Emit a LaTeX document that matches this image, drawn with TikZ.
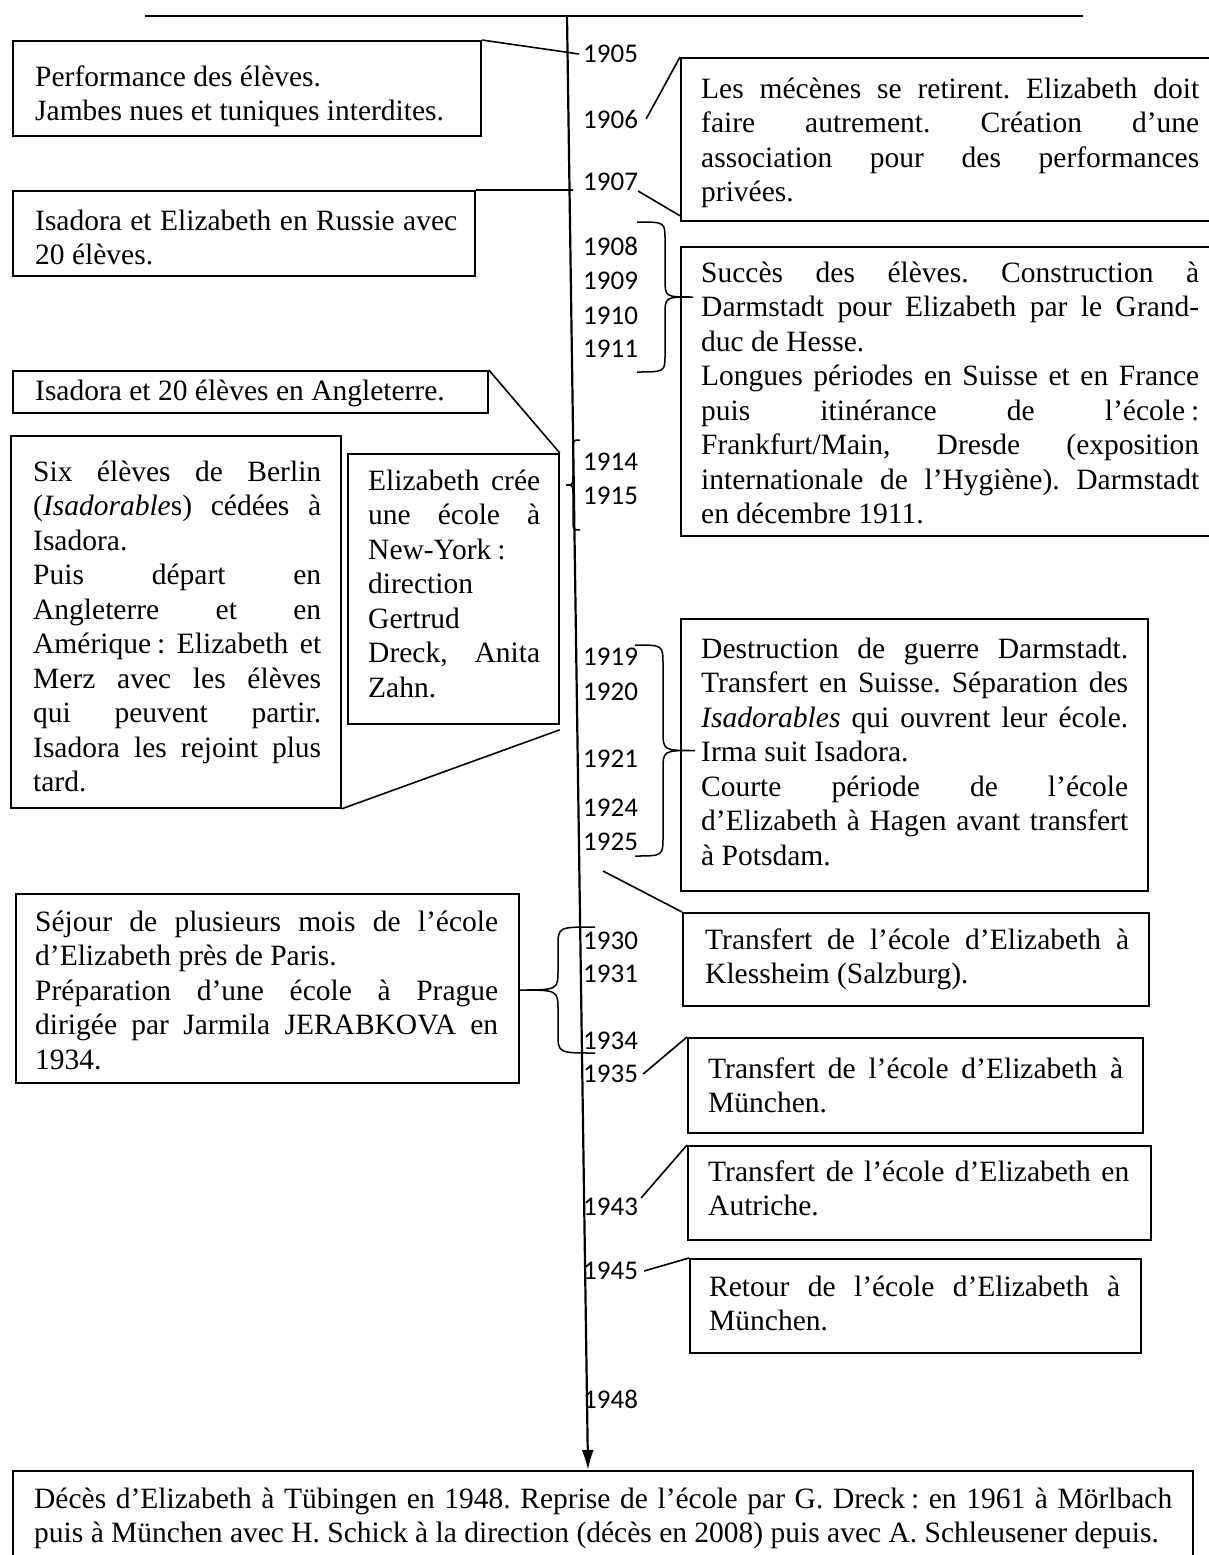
\documentclass[tikz,border=0pt]{standalone}
\usepackage{fontspec}
\setmainfont{Liberation Serif}
\newfontfamily\yearfont{Carlito}
\usetikzlibrary{positioning,arrows.meta}
\tikzset{>={Latex[length=20pt,width=12pt]}}
\newcommand{\boxfont}{\fontsize{29.5}{34.5}\selectfont\frenchspacing\parindent=0pt \hyphenpenalty=10000 \tolerance=9999 \hbadness=10000 \relax}
\newcommand{\colsp}{\nobreak\hspace{0.2em}:}
% curly brace: end x, top y, bottom y, spine x, tip x, radius
\newcommand{\wordbrace}[6]{%
	\draw[line width=1.5pt] (#1,#2) .. controls (#4,#2) .. (#4,#2+#6)
		-- (#4,{(#2+#3)/2-#6}) .. controls (#4,{(#2+#3)/2}) .. (#5,{(#2+#3)/2})
		.. controls (#4,{(#2+#3)/2}) .. (#4,{(#2+#3)/2+#6})
		-- (#4,#3-#6) .. controls (#4,#3) .. (#1,#3);}

\begin{document}
\begin{tikzpicture}[x=1pt, y=-1pt,
	frame/.style = {draw, line width=1.8pt, anchor=north west, inner sep=0pt},
	boxtext/.style = {anchor=north west, inner sep=0pt, align=justify, font=\boxfont, execute at begin node=\strut},
	yearlbl/.style = {anchor=west, inner sep=0pt, font=\yearfont\fontsize{27}{30}\selectfont},
	link/.style = {line width=1.6pt}]
	\useasboundingbox (0,0) rectangle (1208,1555);
	% rule at the top
	\coordinate (rulel) at (145,16);
	\coordinate (ruler) at (1083,16);
	\draw[line width=2.5pt] (rulel) -- (ruler);
	% years
	\foreach \yr/\yy in {1905/54, 1906/119, 1907/182, 1908/246, 1909/281, 1910/316, 1911/349, 1914/462, 1915/496, 1919/657, 1920/692, 1921/759, 1924/808, 1925/842, 1930/941, 1931/974, 1934/1041, 1935/1074, 1943/1207, 1945/1271, 1948/1399}
	\node[yearlbl] (y\yr) at (583,\yy) {\yr};
	% time axis
	\coordinate (ttop) at (567,16);
	\coordinate (tend) at (588,1470);
	\draw[line width=2.2pt, ->] (ttop) -- (tend);

	% left column
	\node[frame, minimum width=468pt, minimum height=95pt] (perf) at (12,40) {};
	\node[boxtext, text width=426pt, below right=22pt and 23pt of perf.north west] (perf-t) {Performance des élèves.\\Jambes nues et tuniques interdites.};
	\draw[link] (perf.north east) -- ([xshift=-4pt]y1905.west);

	\node[frame, minimum width=462pt, minimum height=85pt] (russie) at (12,190) {};
	\node[boxtext, text width=422pt, below right=16pt and 23pt of russie.north west] (russie-t) {Isadora et Elizabeth en Russie avec\linebreak 20 élèves.};
	\coordinate (trussie) at (573,190);
	\draw[link] (russie.north east) -- (trussie);

	\node[frame, minimum width=475pt, minimum height=42pt] (angl) at (12,370) {};
	\node[boxtext, text width=433pt, below right=6pt and 23pt of angl.north west] (angl-t) {Isadora et 20 élèves en Angleterre.};

	\node[frame, minimum width=330pt, minimum height=372pt] (berlin) at (10,435) {};
	\node[boxtext, text width=288pt, below right=22pt and 23pt of berlin.north west] (berlin-t) {Six élèves de Berlin\linebreak (\textit{Isadorable}s) cédées à\linebreak Isadora.\\Puis départ en\linebreak Angleterre et en\linebreak Amérique\colsp{} Elizabeth et\linebreak Merz avec les élèves\linebreak qui peuvent partir.\linebreak Isadora les rejoint plus\linebreak tard.};

	\node[frame, minimum width=211pt, minimum height=270pt] (ny) at (347,453) {};
	\node[boxtext, text width=172pt, below right=13pt and 21pt of ny.north west] (ny-t) {Elizabeth crée\linebreak une école à\linebreak New-York\colsp\\direction\\Gertrud\\Dreck, Anita\linebreak Zahn.};
	\draw[link] (angl.north east) -- (ny.north east);
	\draw[link] (berlin.south east) -- ([yshift=-5pt]ny.south east);

	\node[frame, minimum width=503pt, minimum height=189pt] (paris) at (15,893) {};
	\node[boxtext, text width=463pt, below right=14pt and 20pt of paris.north west] (paris-t) {Séjour de plusieurs mois de l’école\linebreak d’Elizabeth près de Paris.\\Préparation d’une école à Prague\linebreak dirigée par Jarmila JERABKOVA en\linebreak 1934.};

	% right column
	\node[frame, minimum width=540pt, minimum height=163pt] (mecenes) at (680,57) {};
	\node[boxtext, text width=498pt, below right=17pt and 21pt of mecenes.north west] (mecenes-t) {Les mécènes se retirent. Elizabeth doit\linebreak faire autrement. Création d’une\linebreak association pour des performances\linebreak privées.};
	\draw[link] ([xshift=8pt]y1906.east) -- (mecenes.north west);
	\draw[link] (y1907.south east) -- ([yshift=6pt]mecenes.south west);

	\node[frame, minimum width=540pt, minimum height=289pt] (darm) at (680,246) {};
	\node[boxtext, text width=498pt, below right=12pt and 21pt of darm.north west] (darm-t) {Succès des élèves. Construction à\linebreak Darmstadt pour Elizabeth par le Grand-\linebreak duc de Hesse.\\Longues périodes en Suisse et en France\linebreak puis itinérance de l’école\colsp\linebreak Frankfurt/Main, Dresde (exposition\linebreak internationale de l’Hygiène). Darmstadt\linebreak en décembre 1911.};

	\node[frame, minimum width=467pt, minimum height=272pt] (guerre) at (680,618) {};
	\node[boxtext, text width=427pt, below right=16pt and 21pt of guerre.north west] (guerre-t) {Destruction de guerre Darmstadt.\linebreak Transfert en Suisse. Séparation des\linebreak \textit{Isadorables} qui ouvrent leur école.\linebreak Irma suit Isadora.\\Courte période de l’école\linebreak d’Elizabeth à Hagen avant transfert\linebreak à Potsdam.};

	\node[frame, minimum width=466pt, minimum height=93pt] (kless) at (682,912) {};
	\node[boxtext, text width=424pt, below right=13pt and 23pt of kless.north west] (kless-t) {Transfert de l’école d’Elizabeth à\linebreak Klessheim (Salzburg).};
	\coordinate (tkless) at (603,871);
	\draw[link] (tkless) -- (kless.north west);

	\node[frame, minimum width=455pt, minimum height=95pt] (munich) at (687,1037) {};
	\node[boxtext, text width=415pt, below right=17pt and 21pt of munich.north west] (munich-t) {Transfert de l’école d’Elizabeth à\linebreak München.};
	\draw[link] ([xshift=5pt]y1935.east) -- (munich.north west);

	\node[frame, minimum width=463pt, minimum height=94pt] (autr) at (687,1145) {};
	\node[boxtext, text width=421pt, below right=12pt and 21pt of autr.north west] (autr-t) {Transfert de l’école d’Elizabeth en\linebreak Autriche.};
	\draw[link] ([xshift=3pt]y1943.north east) -- (autr.north west);

	\node[frame, minimum width=451pt, minimum height=94pt] (retour) at (689,1258) {};
	\node[boxtext, text width=411pt, below right=14pt and 20pt of retour.north west] (retour-t) {Retour de l’école d’Elizabeth à\linebreak München.};
	\draw[link] ([xshift=6pt]y1945.east) -- (retour.north west);

	% braces
	\wordbrace{637}{222}{372}{665}{693}{18}
	\wordbrace{580}{440}{530}{573}{566}{10}
	\wordbrace{635}{645}{856}{663}{695}{20}
	\wordbrace{595}{927}{1053}{558}{518}{20}

	% last box
	\node[frame, minimum width=1180pt, minimum height=120pt] (deces) at (12,1470) {};
	\node[boxtext, text width=1138pt, below right=14pt and 22pt of deces.north west] (deces-t) {Décès d’Elizabeth à Tübingen en 1948. Reprise de l’école par G. Dreck\colsp{} en 1961 à Mörlbach\linebreak puis à München avec H. Schick à la direction (décès en 2008) puis avec A. Schleusener depuis.};
\end{tikzpicture}
\end{document}
